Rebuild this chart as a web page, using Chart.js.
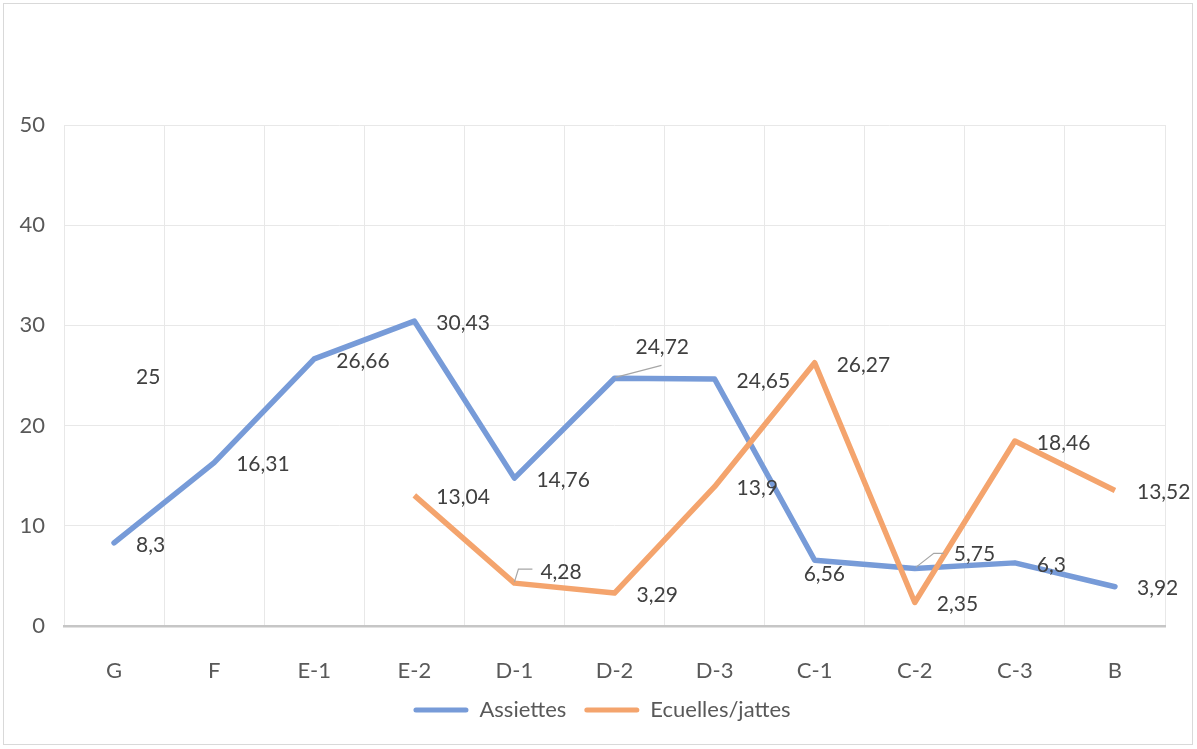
<!DOCTYPE html>
<html>
<head>
<meta charset="utf-8">
<script src="https://cdn.jsdelivr.net/npm/chart.js@4.4.0/dist/chart.umd.min.js"></script>
<style>
    html, body { margin: 0; padding: 0; background: #fff; }
    #wrap { position: absolute; left: 3px; top: 3px; width: 1190px; height: 742px; border: 1px solid #d9d9d9; box-sizing: border-box; }
</style>
</head>
<body>
<div id="wrap"><canvas id="chart"></canvas></div>
<script>
const categories = ['G', 'F', 'E-1', 'E-2', 'D-1', 'D-2', 'D-3', 'C-1', 'C-2', 'C-3', 'B'];
const assiettes = [8.3, 16.31, 26.66, 30.43, 14.76, 24.72, 24.65, 6.56, 5.75, 6.3, 3.92];
const ecuelles = [25, null, null, 13.04, 4.28, 3.29, 13.9, 26.27, 2.35, 18.46, 13.52];
const yTicks = [0, 10, 20, 30, 40, 50];

const blue = '#779bd8';
const orange = '#f4a46d';
const fontFamily = 'Lato, "Open Sans", sans-serif';

// label placement tweaks, keyed "dataset-index" (relative to the point)
const labelNudge = {
    '0-5': { dx: 21, dy: -31, leader: [[1, -1], [47, -13]] },
    '0-7': { dx: -11, dy: 14 },
    '0-8': { dx: 39, dy: -14, leader: [[1, -1], [19, -15], [29, -15]] },
    '1-4': { dx: 26, dy: -11, leader: [[0, -1], [4, -14], [18, -14]] }
};

// format like the original (comma decimal)
const fmt = v => String(v).replace('.', ',');

const dataLabels = {
    id: 'dataLabels',
    afterDatasetsDraw(chart) {
        const ctx = chart.ctx;
        ctx.save();
        ctx.font = '21px ' + fontFamily;
        ctx.textAlign = 'left';
        ctx.textBaseline = 'middle';
        chart.data.datasets.forEach((ds, di) => {
            const meta = chart.getDatasetMeta(di);
            meta.data.forEach((pt, i) => {
                const v = ds.data[i];
                if (v === null || v === undefined) return;
                const n = labelNudge[di + '-' + i] || { dx: 22, dy: 2 };
                if (n.leader) {
                    ctx.strokeStyle = '#a6a6a6';
                    ctx.lineWidth = 1.2;
                    ctx.beginPath();
                    n.leader.forEach((p, k) => {
                        if (k === 0) ctx.moveTo(pt.x + p[0], pt.y + p[1]);
                        else ctx.lineTo(pt.x + p[0], pt.y + p[1]);
                    });
                    ctx.stroke();
                }
                ctx.fillStyle = '#404040';
                ctx.fillText(fmt(v), pt.x + n.dx, pt.y + n.dy);
            });
        });
        ctx.restore();
    }
};

// legend sits centred on the plot rather than on the whole canvas
const legendShift = {
    id: 'legendShift',
    afterLayout(chart) {
        if (chart.legend) chart.legend.left += 35;
    }
};

new Chart(document.getElementById('chart'), {
    type: 'line',
    data: {
        labels: categories,
        datasets: [
            {
                label: 'Assiettes',
                data: assiettes,
                borderColor: blue,
                backgroundColor: blue,
                borderWidth: 5.5,
                pointRadius: 0,
                borderJoinStyle: 'round',
                borderCapStyle: 'round',
                tension: 0,
                order: 1
            },
            {
                label: 'Ecuelles/jattes',
                data: ecuelles,
                borderColor: orange,
                backgroundColor: orange,
                borderWidth: 5.5,
                pointRadius: 0,
                borderJoinStyle: 'round',
                borderCapStyle: 'butt',
                tension: 0,
                spanGaps: false,
                order: 0
            }
        ]
    },
    options: {
        responsive: true,
        maintainAspectRatio: false,
        animation: false,
        layout: { padding: { left: 0, right: 27, top: 121, bottom: 13 } },
        scales: {
            x: {
                offset: true,
                grid: { offset: true, color: '#e8e8e8', lineWidth: 1, drawTicks: false },
                border: { color: '#c6c6c6', width: 2.5 },
                ticks: { color: '#595959', font: { family: fontFamily, size: 22 }, padding: 32, maxRotation: 0 },
                afterFit: s => { s.height = 55; }
            },
            y: {
                min: 0,
                max: 50,
                afterBuildTicks: s => { s.ticks = yTicks.map(v => ({ value: v })); },
                grid: { color: '#e8e8e8', lineWidth: 1, drawTicks: false },
                border: { display: false },
                ticks: { color: '#595959', font: { family: fontFamily, size: 22 }, padding: 19 },
                afterFit: s => { s.width = 60; }
            }
        },
        plugins: {
            tooltip: { enabled: false },
            legend: {
                position: 'bottom',
                labels: {
                    boxWidth: 55,
                    boxHeight: 5,
                    padding: 18,
                    color: '#595959',
                    font: { family: fontFamily, size: 22 },
                    sort: (a, b) => a.datasetIndex - b.datasetIndex,
                    generateLabels: chart => chart.data.datasets.map((ds, i) => ({
                        text: ds.label,
                        fillStyle: ds.borderColor,
                        strokeStyle: ds.borderColor,
                        lineWidth: 0,
                        borderRadius: 2.5,
                        fontColor: '#595959',
                        hidden: false,
                        datasetIndex: i
                    }))
                }
            }
        }
    },
    plugins: [dataLabels, legendShift]
});
</script>
</body>
</html>
